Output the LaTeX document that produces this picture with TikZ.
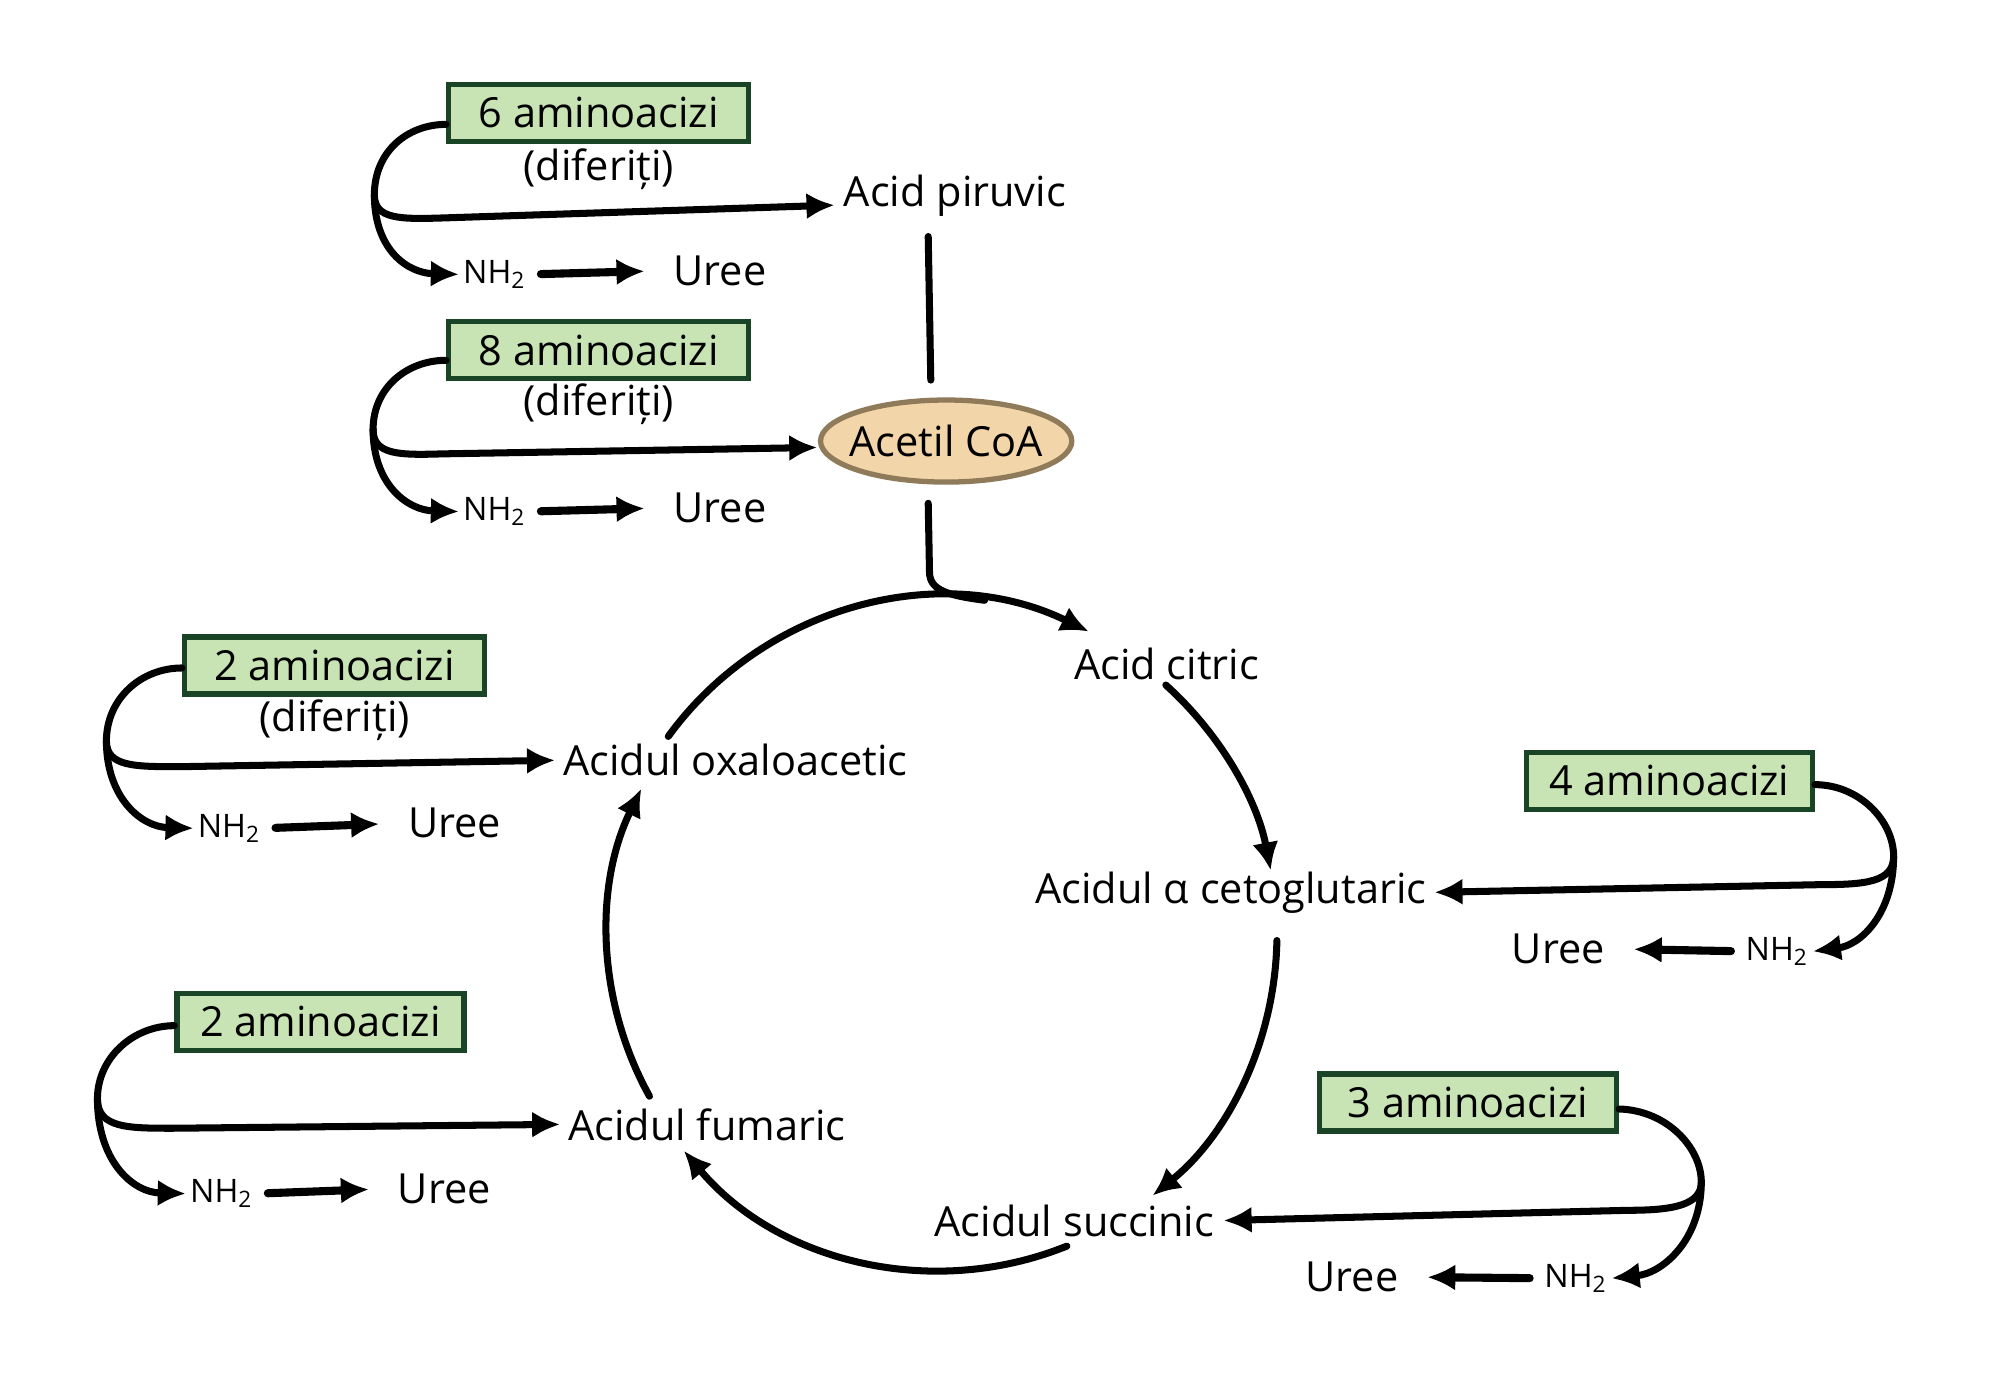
\documentclass[tikz,border=0pt]{standalone}
\usepackage{fontspec}
\setmainfont{Open Sans}
\usetikzlibrary{arrows.meta,shapes.geometric,calc}
\definecolor{boxfill}{HTML}{C9E4B4}
\definecolor{boxline}{HTML}{1A4426}
\definecolor{ellfill}{HTML}{F2D5A8}
\definecolor{ellline}{HTML}{8F7A5A}
\begin{document}
\begin{tikzpicture}[x=0.01282cm,y=-0.01282cm,
  amino/.style={draw=boxline, fill=boxfill, line width=1.5pt, font=\fontsize{11.8}{14}\selectfont, minimum width=3cm, minimum height=0.57cm, inner sep=0pt},
  lbl/.style={font=\fontsize{11.8}{14}\selectfont, inner sep=1pt},
  nh/.style={font=\fontsize{9.2}{11}\selectfont, inner sep=1pt},
  ellbox/.style={minimum width=2.51cm, minimum height=0.82cm, inner sep=0pt, font=\fontsize{11.8}{14}\selectfont},
  ln/.style={line width=2pt, line cap=round},
  arr/.style={ln, -{Latex[length=8pt,width=7.5pt]}},
  short/.style={arr, line width=2.3pt, shorten <=3pt, shorten >=7pt}]
\useasboundingbox (0,0) rectangle (1560,1076);

% ---- group 6
\node[amino] (a6) at (467,88) {6 aminoacizi};
\node[lbl] (d6) at (467,132) {(diferiți)};
\node[lbl, anchor=west] (pir) at (655,153) {Acid piruvic};
\node[nh, anchor=west] (nh6) at (358,214) {NH\textsubscript{2}};
\node[lbl, anchor=west] (u6) at (522,211) {Uree};
\coordinate (k6) at (292,152);
\draw[ln] ($(a6.west)+(0,9)$) .. controls (318,97) and (292,118) .. (k6);
\draw[arr] (k6) .. controls (292,171) and (312,171) .. (345,170) -- ($(pir.west)+(-4,7)$);
\draw[arr] (k6) .. controls (292,195) and (318,213) .. (nh6.west);
\draw[short] (nh6.east) -- (u6.west);

% ---- group 8
\node[amino] (a8) at (467,273) {8 aminoacizi};
\node[lbl] (d8) at (467,315) {(diferiți)};
\coordinate (acc) at (738,344);
\draw[draw=ellline, fill=ellfill, line width=1.5pt] (acc) ellipse [x radius=98, y radius=32];
\node[ellbox] (acoa) at (acc) {Acetil CoA};
\node[nh, anchor=west] (nh8) at (358,399) {NH\textsubscript{2}};
\node[lbl, anchor=west] (u8) at (522,396) {Uree};
\coordinate (k8) at (291,335);
\draw[ln] ($(a8.west)+(0,8)$) .. controls (318,281) and (291,302) .. (k8);
\draw[arr] (k8) .. controls (291,355) and (312,355) .. (345,354) -- ($(acoa.west)+(-2,5)$);
\draw[arr] (k8) .. controls (291,378) and (318,398) .. (nh8.west);
\draw[short] (nh8.east) -- (u8.west);

\draw[ln] ($(pir.south -| acoa.north)+(-14,12)$) -- ($(acoa.north)+(-12,-15)$);

% ---- cycle
\coordinate (c) at (734,729);
\coordinate (mrg) at ($(c)+(-82.57:263)$);
\node[lbl] (cit) at (910,518) {Acid citric};
\node[lbl, anchor=west] (oxa) at (436,593) {Acidul oxaloacetic};
\node[lbl] (ceto) at (960,696) {Acidul α cetoglutaric};
\node[lbl, anchor=west] (fum) at (440,877) {Acidul fumaric};
\node[lbl] (succ) at (838,952) {Acidul succinic};

\draw[ln] ($(acoa.south)+(-14,16)$) -- (725,446) .. controls (725,460) and ($(mrg)+(-30,-4)$) .. (mrg);
\draw[arr] ($(c)+(-144:263)$) arc[start angle=-144, end angle=-64, radius=263];
\draw[arr] ($(c)+(-48:262)$) arc[start angle=-48, end angle=-11, radius=262];
\draw[arr] ($(c)+(1:262)$) arc[start angle=1, end angle=51, radius=262];
\draw[arr] ($(c)+(68:262)$) arc[start angle=68, end angle=140, radius=262];
\draw[arr] ($(c)+(151:260)$) arc[start angle=151, end angle=206, radius=260];

% ---- group 2 (diferiti)
\node[amino] (a2a) at (261,519) {2 aminoacizi};
\node[lbl] (d2a) at (261,562) {(diferiți)};
\node[nh, anchor=west] (nh2a) at (151,646) {NH\textsubscript{2}};
\node[lbl, anchor=west] (u2a) at (315,642) {Uree};
\coordinate (k2a) at (83,578);
\draw[ln] ($(a2a.west)+(0,2)$) .. controls (110,521) and (83,545) .. (k2a);
\draw[arr] (k2a) .. controls (83,598) and (105,598) .. (140,598) -- ($(oxa.west)+(-3,0)$);
\draw[arr] (k2a) .. controls (83,622) and (110,645) .. (nh2a.west);
\draw[short] (nh2a.east) -- (u2a.west);

% ---- group 2
\node[amino, minimum width=2.87cm] (a2b) at (250,797) {2 aminoacizi};
\node[nh, anchor=west] (nh2b) at (145,931) {NH\textsubscript{2}};
\node[lbl, anchor=west] (u2b) at (307,927) {Uree};
\coordinate (k2b) at (76,857);
\draw[ln] ($(a2b.west)+(0,3)$) .. controls (104,800) and (76,825) .. (k2b);
\draw[arr] (k2b) .. controls (76,880) and (100,880) .. (135,880) -- ($(fum.west)+(-3,0)$);
\draw[arr] (k2b) .. controls (76,905) and (103,930) .. (nh2b.west);
\draw[short] (nh2b.east) -- (u2b.west);

% ---- group 4
\node[amino, minimum width=2.86cm] (a4) at (1302,609) {4 aminoacizi};
\node[nh, anchor=east] (nh4) at (1414,742) {NH\textsubscript{2}};
\node[lbl, anchor=east] (u4) at (1255,740) {Uree};
\coordinate (k4) at (1477,668);
\draw[ln] ($(a4.east)+(0,3)$) .. controls (1450,612) and (1477,640) .. (k4);
\draw[arr] (k4) .. controls (1477,688) and (1455,690) .. (1420,690) -- ($(ceto.east)+(3,0)$);
\draw[arr] (k4) .. controls (1477,712) and (1452,737) .. (nh4.east);
\draw[short] (nh4.west) -- (u4.east);

% ---- group 3
\node[amino, minimum width=2.97cm] (a3) at (1145,860) {3 aminoacizi};
\node[nh, anchor=east] (nh3) at (1257,997) {NH\textsubscript{2}};
\node[lbl, anchor=east] (u3) at (1094,996) {Uree};
\coordinate (k3) at (1327,922);
\draw[ln] ($(a3.east)+(0,5)$) .. controls (1300,866) and (1327,895) .. (k3);
\draw[arr] (k3) .. controls (1327,940) and (1305,944) .. (1270,944) -- ($(succ.east)+(4,0)$);
\draw[arr] (k3) .. controls (1327,967) and (1297,993) .. (nh3.east);
\draw[short] (nh3.west) -- (u3.east);
\end{tikzpicture}
\end{document}
